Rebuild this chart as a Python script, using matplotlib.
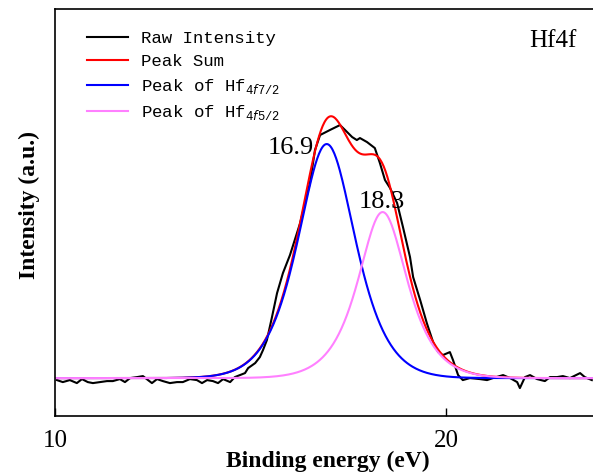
import numpy as np
import matplotlib
matplotlib.use("Agg")
import matplotlib.pyplot as plt

# raw XPS spectrum (eV, counts)
energy = [10.05, 10.20, 10.38, 10.56, 10.69, 10.84, 10.97, 11.15, 11.33, 11.48,
          11.66, 11.79, 11.92, 12.10, 12.25, 12.38, 12.48, 12.61, 12.76, 12.94,
          13.12, 13.27, 13.45, 13.63, 13.76, 13.89, 14.04, 14.17, 14.30, 14.48,
          14.60, 14.73, 14.86, 14.94, 15.12, 15.24, 15.32, 15.42, 15.55, 15.68,
          15.83, 16.01, 16.27, 16.52, 16.65, 16.78, 17.03, 17.29, 17.42, 17.60,
          17.72, 17.80, 17.98, 18.18, 18.31, 18.44, 18.57, 18.75, 18.90, 19.08,
          19.16, 19.34, 19.51, 19.67, 19.80, 19.92, 20.10, 20.18, 20.31, 20.43,
          20.61, 20.87, 21.05, 21.20, 21.46, 21.64, 21.82, 21.89, 22.02, 22.15,
          22.33, 22.53, 22.66, 22.84, 22.99, 23.17, 23.43, 23.55, 23.73]
raw = [-2, -4, -2, -5, -1, -4, -5, -4, -3, -3,
       -1, -4, 0, 1, 2, -2, -5, -1, -3, -5,
       -4, -4, -1, -2, -5, -2, -3, -5, -1, -4,
       1, 3, 5, 10, 15, 21, 28, 38, 61, 85,
       105, 123, 155, 195, 228, 243, 248, 253, 248, 241,
       238, 240, 236, 230, 215, 198, 190, 175, 151, 121,
       101, 78, 55, 36, 26, 23, 26, 18, 3, -2,
       0, -1, -2, 0, 3, 0, -4, -10, 1, 3,
       -1, -3, 1, 1, 2, 0, 5, 1, -2]

# fitted components (GL product shape): centre (eV), height, FWHM-ish width, lorentz mix
peak_names = ["Peak of Hf$_{4f7/2}$", "Peak of Hf$_{4f5/2}$"]
centres = [16.95, 18.38]
heights = [234, 166]
widths = [1.80, 1.535]
mix = [0.65, 0.75]


def gl(x, c, h, w, m):
    u = ((x - c) / w) ** 2
    return h * np.exp(-4 * np.log(2) * (1 - m) * u) / (1 + 4 * m * u)


xfit = np.linspace(10, 23.76, 600)
comps = [gl(xfit, centres[i], heights[i], widths[i], mix[i]) for i in range(2)]
total = comps[0] + comps[1]

plt.rcParams['mathtext.fontset'] = 'custom'
plt.rcParams['mathtext.rm'] = 'Liberation Mono'

fig = plt.figure(figsize=(5.93, 4.75), dpi=100)
ax = fig.add_axes([0.0927, 0.124, 0.9073, 0.857])

ax.plot(energy, raw, color='black', lw=1.5, label='Raw Intensity')
ax.plot(xfit, total, color='red', lw=1.5, label='Peak Sum')
ax.plot(xfit, comps[0], color='blue', lw=1.5, label=peak_names[0])
ax.plot(xfit, comps[1], color='#ff80ff', lw=1.5, label=peak_names[1])

ax.set_xlim(10, 23.76)
ax.set_ylim(-38, 369)
ax.set_xticks([10, 20])
ax.set_yticks([])
ax.tick_params(axis='x', direction='in', length=6, width=1, pad=10, labelsize=18)
for lab in ax.get_xticklabels():
    lab.set_fontfamily('Liberation Serif')
ax.spines['right'].set_visible(False)
for sp in ['left', 'top', 'bottom']:
    ax.spines[sp].set_linewidth(1.2)

ax.set_xlabel('Binding energy (eV)', fontsize=17, fontweight='bold', family='Liberation Serif')
ax.xaxis.set_label_coords(0.507, -0.086)
ax.set_ylabel('Intensity (a.u.)', fontsize=17, fontweight='bold', family='Liberation Serif')
ax.yaxis.set_label_coords(-0.027, 0.518)

ax.text(0.925, 0.922, 'Hf4f', transform=ax.transAxes, fontsize=18,
        family='Liberation Serif', ha='center', va='center')
ax.text(16.04, 230, '16.9', fontsize=19, family='Liberation Serif', ha='center', va='center')
ax.text(18.37, 176, '18.3', fontsize=19, family='Liberation Serif', ha='center', va='center')

ax.legend(loc='upper left', bbox_to_anchor=(0.03, 0.985), frameon=False,
          prop={'family': 'Liberation Mono', 'size': 12.5},
          handlelength=2.4, handletextpad=0.7, labelspacing=0.45)

fig.savefig('out.png', dpi=100)
